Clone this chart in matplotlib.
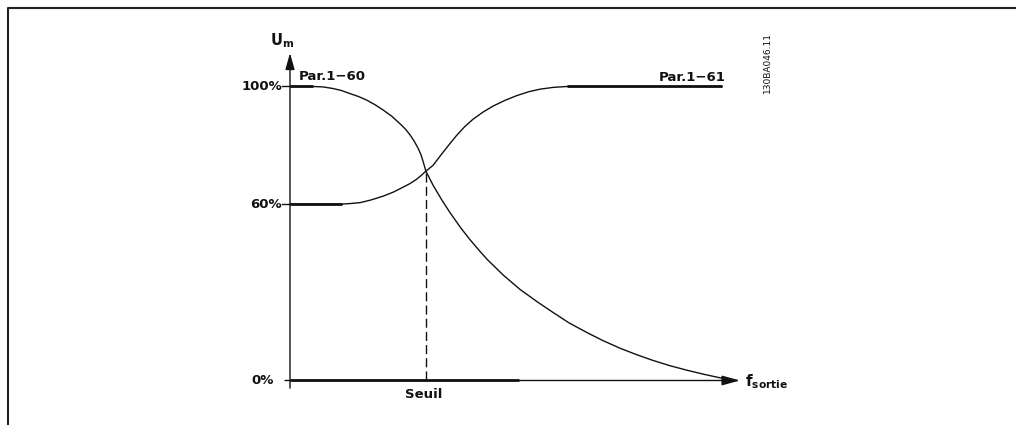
import matplotlib
matplotlib.use('Agg')
import matplotlib.pyplot as plt
from matplotlib.lines import Line2D

# output frequency (arbitrary units, 0..100) and motor voltage U_m in %
# falling curve (Par.1-60 side)
f_down = [0, 5.2, 7.4, 9.6, 11.5, 13.3, 15.2, 17.0, 18.9, 20.7, 22.6, 24.4,
          25.6, 26.7, 27.6, 28.5, 29.1, 29.6, 30.2,
          31.8, 33.7, 35.6, 38.0, 40.0, 42.0, 43.8, 47.5, 51.1, 55.0, 58.4,
          62.0, 66.0, 69.5, 73.3, 77.0, 80.7, 84.5, 88.2, 92.0, 95.6, 98.4]
u_down = [100, 100, 99.85, 99.3, 98.6, 97.6, 96.6, 95.4, 93.8, 92.0, 89.9, 87.4,
          85.6, 83.5, 81.4, 78.9, 76.8, 74.4, 71.2,
          66.4, 61.5, 57.0, 51.8, 47.9, 44.3, 41.2, 35.7, 31.0, 26.7, 23.2,
          19.6, 16.3, 13.6, 11.0, 8.8, 6.8, 5.0, 3.5, 2.1, 0.9, 0]

# rising curve (Par.1-61 side)
f_up = [0, 11.5, 13.5, 15.6, 18.0, 20.7, 23.0, 25.2, 26.7, 28.1, 29.2, 30.2,
        31.8, 33.0, 34.1, 35.5, 37.0, 38.8, 40.7, 42.9, 45.2, 47.8, 50.4,
        53.0, 55.6, 58.5, 61.5, 96.0]
u_up = [60, 60, 60.2, 60.5, 61.4, 62.7, 64.1, 65.8, 67.0, 68.4, 69.8, 71.2,
        73.2, 75.6, 77.8, 80.5, 83.3, 86.3, 88.9, 91.3, 93.4, 95.3, 96.9,
        98.2, 99.1, 99.7, 100, 100]

f_thresh = 30.2
u_thresh = 71.2

y_ticks = [100, 60, 0]
y_labels = ['100%', '60%', '0%']

fig = plt.figure(figsize=(10.16, 4.25), dpi=100)
ax = fig.add_axes([0, 0, 1, 1])
ax.set_xlim(-64.44, 161.33)
ax.set_ylim(-15.14, 129.42)
ax.axis('off')

ink = '#111111'
font = dict(family='DejaVu Sans', weight='bold', fontsize=9.5, color=ink)

# frame (top and left only)
fig.add_artist(Line2D([7.5 / 1016, 7.5 / 1016, 1], [0, 1 - 7.5 / 425, 1 - 7.5 / 425],
                      transform=fig.transFigure, color='#222222', lw=1.5))

# axes with arrows
ax.annotate('', xy=(100, 0), xytext=(-1.1, 0),
            arrowprops=dict(arrowstyle='-|>,head_length=1.1,head_width=0.3',
                            color=ink, lw=1.0, shrinkA=0, shrinkB=0))
ax.annotate('', xy=(0, 111.4), xytext=(0, -2.6),
            arrowprops=dict(arrowstyle='-|>,head_length=1.0,head_width=0.28',
                            color=ink, lw=1.0, shrinkA=0, shrinkB=0))
ax.plot([0, 51], [0, 0], color=ink, lw=2.0, solid_capstyle='butt')

# ticks and labels
for yt, lab in zip(y_ticks, y_labels):
    if yt > 0:
        ax.plot([-1.7, 0], [yt, yt], color=ink, lw=1.0)
        ax.text(-1.8, yt, lab, ha='right', va='center', **font)
    else:
        ax.text(-3.6, yt, lab, ha='right', va='center', **font)

# curves
ax.plot(f_down, u_down, color=ink, lw=1.0, solid_joinstyle='round')
ax.plot(f_up, u_up, color=ink, lw=1.0, solid_joinstyle='round')
ax.plot(f_down[:2], u_down[:2], color=ink, lw=2.0, solid_capstyle='butt')
ax.plot(f_up[:2], u_up[:2], color=ink, lw=2.0, solid_capstyle='butt')
ax.plot(f_up[-2:], u_up[-2:], color=ink, lw=2.0, solid_capstyle='butt')

# threshold
ax.plot([f_thresh, f_thresh], [0, u_thresh], color=ink, lw=1.0,
        linestyle=(0, (6.5, 3)))

ax.text(-1.8, 115.5, r'U$_\mathregular{m}$', ha='center', va='center',
        **{**font, 'fontsize': 10.5})
ax.text(9.5, 103.3, 'Par.1\u221260', ha='center', va='center', **font)
ax.text(89.3, 103.0, 'Par.1\u221261', ha='center', va='center', **font)
ax.text(29.6, -4.9, 'Seuil', ha='center', va='center', **font)
ax.text(101.1, -0.5, r'f$_\mathregular{sortie}$', ha='left', va='center',
        **{**font, 'fontsize': 11})
ax.text(106.2, 108.1, '130BA046.11', ha='center', va='center', rotation=90,
        family='DejaVu Sans', fontsize=6.5, color=ink)

fig.savefig('out.png', dpi=100)
